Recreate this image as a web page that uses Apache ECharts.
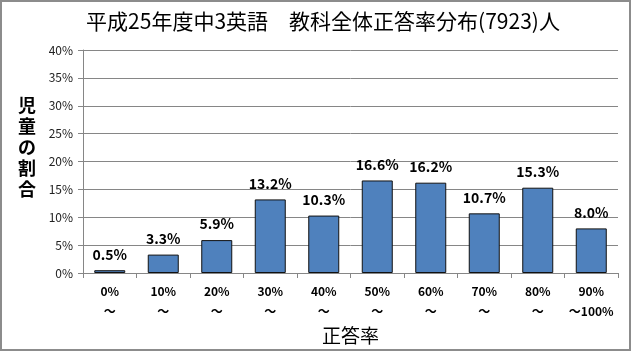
<!DOCTYPE html>
<html>
<head>
<meta charset="utf-8">
<script src="https://cdn.jsdelivr.net/npm/echarts@6/dist/echarts.min.js"></script>
<style>
  html, body { margin: 0; padding: 0; background: #fff; }
  #chart { width: 633px; height: 353px; }
</style>
</head>
<body>
<div id="chart"></div>
<script>
// 正答率の区分
var categories = ["0%\n～", "10%\n～", "20%\n～", "30%\n～", "40%\n～", "50%\n～", "60%\n～", "70%\n～", "80%\n～", "90%\n～100%"];
// 児童の割合 (%)
var ratios = [0.5, 3.3, 5.9, 13.2, 10.3, 16.6, 16.2, 10.7, 15.3, 8.0];
var yTicks = [0, 5, 10, 15, 20, 25, 30, 35, 40];

var font = '"Noto Sans CJK JP", sans-serif';
var myChart = echarts.init(document.getElementById("chart"));
var option = {
  animation: false,
  backgroundColor: "#fff",
  title: {
    text: "平成25年度中3英語　教科全体正答率分布(7923)人",
    left: 318,
    textAlign: "center",
    top: 6,
    textStyle: { fontFamily: font, fontSize: 21, fontWeight: "normal", color: "#000" },
  },
  graphic: [
    {
      type: "rect",
      shape: { x: 1, y: 1, width: 629, height: 349 },
      style: { fill: "none", stroke: "#8c8c8c", lineWidth: 2 },
      silent: true,
    },
    {
      type: "text",
      left: 18,
      top: 95,
      style: {
        text: "児\n童\nの\n割\n合",
        font: "bold 18px " + font,
        lineHeight: 21,
        fill: "#000",
      },
    },
  ],
  grid: { left: 83, right: 15, top: 50, bottom: 80 },
  xAxis: {
    type: "category",
    data: categories,
    name: "正答率",
    nameLocation: "middle",
    nameGap: 50,
    nameTextStyle: { fontFamily: font, fontSize: 19, color: "#000" },
    axisLine: { lineStyle: { color: "#868686" } },
    axisTick: { show: true, length: 5, lineStyle: { color: "#868686" } },
    axisLabel: {
      interval: 0,
      fontFamily: font,
      fontSize: 12,
      fontWeight: "bold",
      color: "#000",
      lineHeight: 20,
      margin: 8,
    },
  },
  yAxis: {
    type: "value",
    min: yTicks[0],
    max: yTicks[yTicks.length - 1],
    interval: 5,
    axisLine: { show: true, lineStyle: { color: "#868686" } },
    axisTick: { show: true, length: 5, lineStyle: { color: "#868686" } },
    splitLine: { lineStyle: { color: "#868686" } },
    axisLabel: {
      formatter: "{value}%",
      fontFamily: font,
      fontSize: 12,
      color: "#222",
      margin: 10,
    },
  },
  series: [
    {
      type: "bar",
      data: ratios,
      barWidth: 31,
      itemStyle: { color: "#4f81bd", borderColor: "#111", borderWidth: 1 },
      label: {
        show: true,
        position: "top",
        distance: 9,
        formatter: function (p) {
          return p.value.toFixed(1) + "%";
        },
        fontFamily: font,
        fontSize: 14,
        fontWeight: "bold",
        color: "#000",
      },
    },
  ],
};
option && myChart.setOption(option);
</script>
</body>
</html>
